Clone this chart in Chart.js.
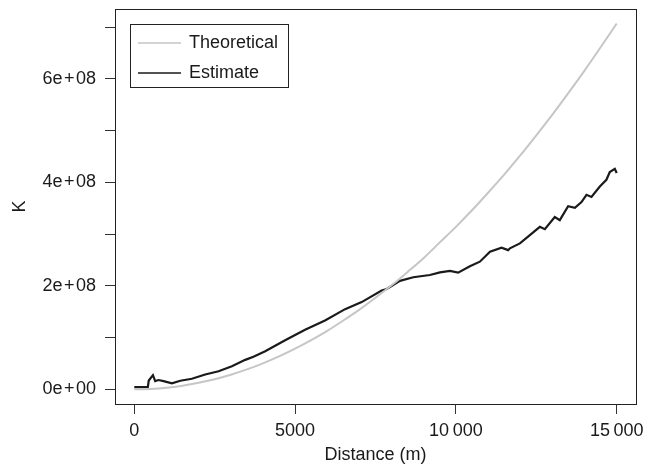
<!DOCTYPE html>
<html>
<head>
<meta charset="utf-8">
<script src="https://cdn.jsdelivr.net/npm/chart.js@4.4.1/dist/chart.umd.min.js"></script>
<style>
  html, body { margin: 0; padding: 0; background: #fff; }
  #wrap { width: 645px; height: 474px; }
</style>
</head>
<body>
<div id="wrap"><canvas id="kChart" width="645" height="474"></canvas></div>
<script>
// Theoretical K, every 500 m
const theoDist = [0, 500, 1000, 1500, 2000, 2500, 3000, 3500, 4000, 4500, 5000, 5500, 6000, 6500, 7000, 7500,
  8000, 8500, 9000, 9500, 10000, 10500, 11000, 11500, 12000, 12500, 13000, 13500, 14000, 14500, 15000];
const theoK = [0, 0.8e6, 3.1e6, 7.1e6, 12.6e6, 19.6e6, 28.3e6, 38.5e6, 50.3e6, 63.6e6, 78.5e6, 95e6, 113e6,
  133e6, 154e6, 177e6, 201e6, 227e6, 254e6, 284e6, 314e6, 346e6, 380e6, 415e6, 452e6, 491e6, 531e6, 573e6,
  616e6, 661e6, 707e6];

// Estimated K
const estDist = [0, 420, 450, 580, 650, 755, 910, 1170, 1430, 1790, 2205, 2620, 3035, 3450, 3705, 4070, 4690,
  5310, 5930, 6555, 7070, 7690, 7850, 8260, 8675, 9190, 9505, 9815, 10070, 10435, 10745, 11060, 11420, 11625,
  11680, 11990, 12300, 12610, 12765, 13075, 13230, 13490, 13700, 13905, 14060, 14215, 14475, 14680, 14785,
  14940, 15000];
const estK = [4.4e6, 4.4e6, 17e6, 27.5e6, 16e6, 18e6, 16e6, 11.5e6, 16.7e6, 20.5e6, 28.8e6, 35e6, 44.8e6, 57e6,
  63e6, 73.7e6, 94.8e6, 115e6, 133e6, 155e6, 168.6e6, 191e6, 194e6, 209.6e6, 216.7e6, 221e6, 226e6, 228.8e6,
  225.6e6, 238e6, 246.7e6, 266e6, 273.7e6, 269e6, 272.5e6, 282e6, 298e6, 314e6, 309.6e6, 333e6, 327e6, 354e6,
  351e6, 362e6, 376e6, 371.7e6, 392e6, 405e6, 420e6, 426e6, 418e6];

const xTicks = [0, 5000, 10000, 15000];
const xTickLabels = ['0', '5000', '10\u2009000', '15\u2009000'];
const yTicks = [0, 1e8, 2e8, 3e8, 4e8, 5e8, 6e8, 7e8];
const yTickLabels = ['0e\u200A+\u200A00', '', '2e\u200A+\u200A08', '', '4e\u200A+\u200A08', '', '6e\u200A+\u200A08', ''];

const FONT = '"Liberation Sans", Arial, sans-serif';

// keep the plot box where it is in the picture: no extra room for labels
function noPad(s) {
  s.paddingTop = 0;
  s.paddingBottom = 0;
  s.paddingLeft = 0;
  s.paddingRight = 0;
}

// box round the plot plus the legend in the top left corner
const framePlugin = {
  id: 'frame',
  afterDraw(chart) {
    const { ctx, chartArea: a } = chart;
    ctx.save();
    ctx.strokeStyle = '#222';
    ctx.lineWidth = 1;
    ctx.strokeRect(a.left + 0.5, a.top + 0.5, a.right - a.left, a.bottom - a.top);

    // legend
    const bx = 130.5, by = 24.5, bw = 158, bh = 63;
    ctx.strokeRect(bx, by, bw, bh);
    ctx.font = '18px ' + FONT;
    ctx.textBaseline = 'middle';
    ctx.textAlign = 'left';
    chart.data.datasets.forEach((ds, i) => {
      const y = 43 + i * 30;
      ctx.strokeStyle = ds.borderColor;
      ctx.lineWidth = 1.5;
      ctx.beginPath();
      ctx.moveTo(138, y);
      ctx.lineTo(181, y);
      ctx.stroke();
      ctx.fillStyle = '#1a1a1a';
      ctx.fillText(ds.label, 189, y);
    });
    ctx.restore();
  }
};

new Chart(document.getElementById('kChart'), {
  type: 'line',
  data: {
    datasets: [
      {
        label: 'Theoretical',
        data: theoDist.map((d, i) => ({ x: d, y: theoK[i] })),
        borderColor: '#c6c6c6',
        borderWidth: 2,
        pointRadius: 0,
        cubicInterpolationMode: 'monotone',
        fill: false
      },
      {
        label: 'Estimate',
        data: estDist.map((d, i) => ({ x: d, y: estK[i] })),
        borderColor: '#1a1a1a',
        borderWidth: 2.2,
        pointRadius: 0,
        tension: 0,
        fill: false
      }
    ]
  },
  options: {
    responsive: false,
    animation: false,
    layout: { padding: { top: 9, right: 9, left: 0, bottom: 0 } },
    plugins: {
      legend: { display: false },
      tooltip: { enabled: false }
    },
    scales: {
      x: {
        type: 'linear',
        min: -600,
        max: 15600,
        afterBuildTicks: s => { s.ticks = xTicks.map(v => ({ value: v })); },
        afterFit: s => { s.height = 70; noPad(s); },
        border: { display: false },
        grid: { drawOnChartArea: false, drawTicks: true, tickLength: 10, color: '#333', lineWidth: 1 },
        ticks: {
          padding: 6,
          maxRotation: 0,
          autoSkip: false,
          color: '#1a1a1a',
          font: { family: FONT, size: 18 },
          callback: (v) => xTickLabels[xTicks.indexOf(v)]
        },
        title: {
          display: true,
          text: 'Distance (m)',
          color: '#1a1a1a',
          font: { family: FONT, size: 18 },
          padding: { top: 0, bottom: 8 }
        }
      },
      y: {
        type: 'linear',
        min: -0.283e8,
        max: 7.35e8,
        afterBuildTicks: s => { s.ticks = yTicks.map(v => ({ value: v })); },
        afterFit: s => { s.width = 115; noPad(s); },
        border: { display: false },
        grid: { drawOnChartArea: false, drawTicks: true, tickLength: 10, color: '#333', lineWidth: 1 },
        ticks: {
          padding: 9,
          autoSkip: false,
          color: '#1a1a1a',
          font: { family: FONT, size: 18 },
          callback: (v) => yTickLabels[yTicks.indexOf(v)]
        },
        title: {
          display: true,
          text: 'K',
          color: '#1a1a1a',
          font: { family: FONT, size: 18 },
          padding: { top: 9, bottom: 0 }
        }
      }
    }
  },
  plugins: [framePlugin]
});
</script>
</body>
</html>
